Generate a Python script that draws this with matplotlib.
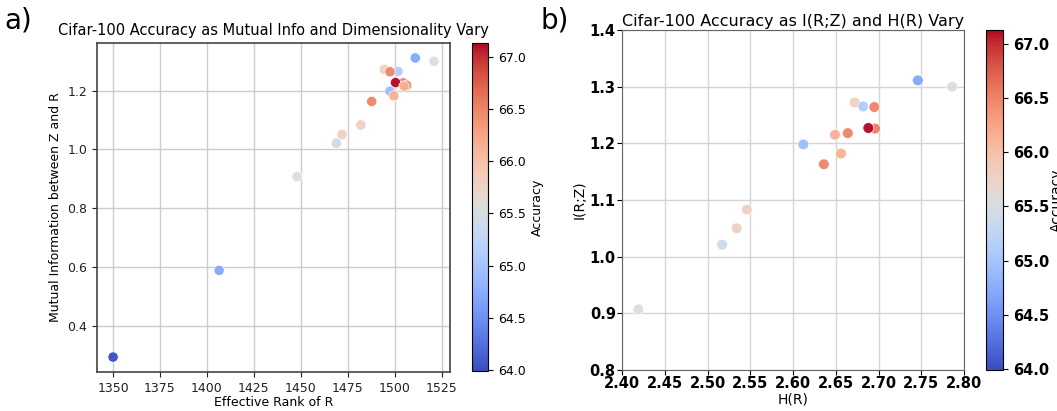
import numpy as np
import matplotlib
matplotlib.use("Agg")
import matplotlib.pyplot as plt

# per-run values
eff_rank = [1511, 1521, 1494.5, 1501.8, 1497.5, 1504.6, 1500.5, 1506.4, 1505.0,
            1497.5, 1499.6, 1487.8, 1482, 1472, 1469, 1448, 1406.5, 1350]
mutual_info = [1.311, 1.300, 1.272, 1.265, 1.264, 1.226, 1.227, 1.218, 1.215,
               1.198, 1.182, 1.163, 1.083, 1.050, 1.021, 0.907, 0.588, 0.293]
entropy_r = [2.746, 2.786, 2.672, 2.682, 2.695, 2.696, 2.688, 2.664, 2.649,
             2.612, 2.656, 2.636, 2.546, 2.534, 2.517, 2.419, np.nan, np.nan]
accuracy = [64.7, 65.55, 65.8, 65.1, 66.5, 66.55, 67.13, 66.5, 66.15,
            64.9, 66.15, 66.5, 65.8, 65.8, 65.4, 65.55, 64.7, 63.99]

rank_ticks = [1350, 1375, 1400, 1425, 1450, 1475, 1500, 1525]
mi_ticks = [0.4, 0.6, 0.8, 1.0, 1.2]
h_ticks = [2.40, 2.45, 2.50, 2.55, 2.60, 2.65, 2.70, 2.75, 2.80]
i_ticks = [0.8, 0.9, 1.0, 1.1, 1.2, 1.3, 1.4]
cb_ticks = [64.0, 64.5, 65.0, 65.5, 66.0, 66.5, 67.0]

acc = np.array(accuracy)
vmin, vmax = acc.min(), acc.max()

fig = plt.figure(figsize=(10.57, 4.11), dpi=100)

# ---- a) ----
ax1 = fig.add_axes([0.0918, 0.0949, 0.334, 0.8005])
sc1 = ax1.scatter(eff_rank, mutual_info, c=acc, cmap='coolwarm', vmin=vmin, vmax=vmax,
                  s=55, edgecolors='white', linewidths=0.5, alpha=0.95, zorder=3)
ax1.set_xticks(rank_ticks)
ax1.set_yticks(mi_ticks)
ax1.grid(True, color='#cccccc', linewidth=1)
ax1.set_axisbelow(True)
ax1.tick_params(labelsize=9, colors='#222222')
ax1.set_xlabel('Effective Rank of R', fontsize=9, labelpad=1)
ax1.set_ylabel('Mutual Information between Z and R', fontsize=9)
ax1.set_title('Cifar-100 Accuracy as Mutual Info and Dimensionality Vary', fontsize=10.5)
for s in ax1.spines.values():
    s.set_color('#444444')
    s.set_linewidth(1.2)

cax1 = fig.add_axes([0.4466, 0.0973, 0.0151, 0.798])
cb1 = fig.colorbar(sc1, cax=cax1)
cb1.set_ticks(cb_ticks)
cb1.ax.tick_params(labelsize=9)
cb1.set_label('Accuracy', fontsize=9)
cb1.solids.set_alpha(1)

# ---- b) ----
ax2 = fig.add_axes([0.5885, 0.0998, 0.3236, 0.8273])
sc2 = ax2.scatter(entropy_r, mutual_info, c=acc, cmap='coolwarm', vmin=vmin, vmax=vmax,
                  s=60, edgecolors='white', linewidths=0.5, alpha=0.95, zorder=3)
ax2.set_xlim(2.4, 2.8)
ax2.set_ylim(0.8, 1.4)
ax2.set_xticks(h_ticks)
ax2.set_yticks(i_ticks)
ax2.set_xticklabels([f'{t:.2f}' for t in h_ticks], fontweight='bold', fontsize=10.5)
ax2.set_yticklabels([f'{t:.1f}' for t in i_ticks], fontweight='bold', fontsize=10.5)
ax2.grid(True, color='#d5d5d5', linewidth=1)
ax2.set_axisbelow(True)
ax2.tick_params(pad=1)
ax2.set_xlabel('H(R)', fontsize=10, labelpad=1)
ax2.set_ylabel('I(R;Z)', fontsize=10, labelpad=2)
ax2.set_title('Cifar-100 Accuracy as I(R;Z) and H(R) Vary', fontsize=11.5, pad=3)
for s in ax2.spines.values():
    s.set_color('#666666')

cax2 = fig.add_axes([0.9328, 0.0998, 0.0161, 0.8273])
cb2 = fig.colorbar(sc2, cax=cax2)
cb2.set_ticks(cb_ticks)
cb2.ax.set_yticklabels([f'{t:.1f}' for t in cb_ticks], fontweight='bold', fontsize=10.5)
cb2.set_label('Accuracy', fontsize=10, labelpad=1)
cb2.solids.set_alpha(1)

fig.text(0.004, 0.985, 'a)', fontsize=20, va='top')
fig.text(0.511, 0.985, 'b)', fontsize=20, va='top')

fig.savefig('out.png', dpi=100)
